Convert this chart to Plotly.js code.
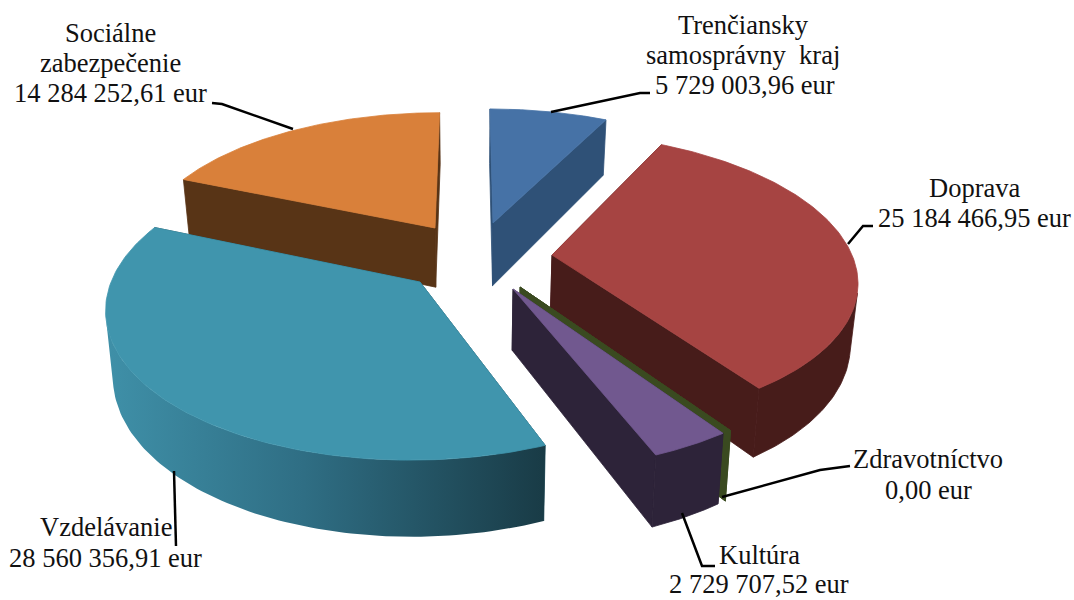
<!DOCTYPE html>
<html>
<head>
<meta charset="utf-8">
<script src="https://cdn.plot.ly/plotly-3.0.1.min.js"></script>
<style>html,body{margin:0;padding:0;background:#fff}#c{width:1074px;height:600px}</style>
</head>
<body>
<div id="c"></div>
<script>
// Data, in pie order (clockwise from 12 o'clock)
var categories = ['Trenčiansky samosprávny kraj', 'Doprava', 'Zdravotníctvo', 'Kultúra', 'Vzdelávanie', 'Sociálne zabezpečenie'];
var values = [5729003.96, 25184466.95, 0, 2729707.52, 28560356.91, 14284252.61];

// Styling per slice
var topColors  = ['#4672a6', '#a64442', '#3a4a20', '#71588f', '#4095ad', '#d9803a'];
var wallColors = ['#2f5177', '#471c1a', '#3a4a20', '#2d2339', '#1f4a57', '#583416'];
var apexX = [493, 552, 520, 513, 420, 435];
var apexY = [223, 255, 287, 289, 282, 228];
var wallDepth = [65, 60, 59, 59, 62.5, 61];
var drawOrder = [5, 0, 1, 2, 3, 4];

// Projection of the tilted pie
var cx0 = 470, cy0 = 255, Rx = 300, Ry = 141, horizon = 905, shrink = 0.98;
var k = Ry / horizon;

function project(X, Y) {
  var q = 1 / (1 + k * Y);
  return {x: cx0 + Rx * X * q, y: cy0 - Ry * Y * q, q: q};
}
function lowerBy(depth) {
  return function (p) {
    return {x: cx0 + (p.x - cx0) * shrink, y: p.y + depth * p.q};
  };
}
function planeFromScreen(sx, sy) {
  var q = 1 - (cy0 - sy) / horizon;
  return {X: (sx - cx0) / (Rx * q), Y: (1 / q - 1) / k, q: q};
}

var total = values.reduce(function (a, b) { return a + b; }, 0);
var startAngle = [], endAngle = [];
var running = 0;
values.forEach(function (v, i) {
  startAngle[i] = running / total * 2 * Math.PI;
  running += v;
  endAngle[i] = running / total * 2 * Math.PI;
});

function poly(points, fillcolor, name, extra) {
  var t = {
    type: 'scatter', mode: 'lines', name: name, hoverinfo: 'name',
    x: points.map(function (p) { return p.x; }),
    y: points.map(function (p) { return p.y; }),
    fill: 'toself', fillcolor: fillcolor,
    line: {width: 0.8, color: fillcolor}
  };
  if (extra) { for (var key in extra) { t[key] = extra[key]; } }
  return t;
}

var traces = [];
drawOrder.forEach(function (i) {
  var a = planeFromScreen(apexX[i], apexY[i]);
  var apex = project(a.X, a.Y);
  var lower = lowerBy(wallDepth[i]);
  var arc = [];
  var steps = 120;
  for (var s = 0; s <= steps; s++) {
    var t = startAngle[i] + (endAngle[i] - startAngle[i]) * s / steps;
    arc.push(project(a.X + Math.sin(t), a.Y + Math.cos(t)));
  }
  var first = arc[0], last = arc[arc.length - 1];
  var name = categories[i];
  // radial walls
  traces.push(poly([apex, first, lower(first), lower(apex), apex], wallColors[i], name));
  traces.push(poly([apex, last, lower(last), lower(apex), apex], wallColors[i], name));
  // rim wall: only the part of the arc that faces the viewer
  var front = arc.filter(function (p, n) {
    var nxt = arc[Math.min(n + 1, arc.length - 1)], prv = arc[Math.max(n - 1, 0)];
    var low = lower(p);
    return (nxt.x - prv.x) * (low.y - p.y) - (nxt.y - prv.y) * (low.x - p.x) < 0;
  });
  if (front.length > 1) {
    var rim = front.concat(front.slice().reverse().map(lower));
    rim.push(front[0]);
    if (name === 'Vzdelávanie') {
      traces.push(poly(rim, wallColors[i], name, {
        line: {width: 0},
        fillgradient: {type: 'horizontal', colorscale: [[0, '#3f90a8'], [0.45, '#2f6e84'], [1, '#193b46']]}
      }));
    } else {
      traces.push(poly(rim, wallColors[i], name));
    }
  }
  // top face
  var face = [apex].concat(arc);
  face.push(apex);
  traces.push(poly(face, topColors[i], name));
});

// Data labels
var labelLines = [
  ['Trenčiansky', 'samosprávny  kraj', '5 729 003,96 eur'],
  ['Doprava', '25 184 466,95 eur'],
  ['Zdravotníctvo', '0,00 eur'],
  ['Kultúra', '2 729 707,52 eur'],
  ['Vzdelávanie', '28 560 356,91 eur'],
  ['Sociálne', 'zabezpečenie', '14 284 252,61 eur']
];
var labelCenterX = [[743, 743, 745], [974, 974], [928, 928], [759, 759], [106, 105], [110, 110, 110]];
var labelFirstY = [25, 188, 459, 555, 527, 33];
var lineGap = [30, 30, 31, 28.5, 31, 30];

var annotations = [];
labelLines.forEach(function (lines, i) {
  lines.forEach(function (txt, j) {
    annotations.push({
      xref: 'x', yref: 'y', x: labelCenterX[i][j], y: labelFirstY[i] + j * lineGap[i],
      text: txt.replace(/  /g, ' \u00a0'), showarrow: false, xanchor: 'center', yanchor: 'middle',
      font: {family: '"Liberation Serif", "Times New Roman", serif', size: 26.5, color: '#111111'}
    });
  });
});

// Leader lines
var leaders = [
  [[551, 112], [640, 93], [650, 93]],
  [[848, 244], [863, 226], [873, 226]],
  [[722, 497], [820, 470], [850, 466]],
  [[682, 513], [702, 566], [715, 566]],
  [[174, 471], [176, 546]],
  [[293, 129], [222, 104], [212, 103]]
];
leaders.forEach(function (pts) {
  traces.push({
    type: 'scatter', mode: 'lines', hoverinfo: 'skip',
    x: pts.map(function (p) { return p[0]; }),
    y: pts.map(function (p) { return p[1]; }),
    line: {color: '#000000', width: 2.5}
  });
});

var layout = {
  width: 1074, height: 600,
  margin: {l: 0, r: 0, t: 0, b: 0},
  paper_bgcolor: '#ffffff', plot_bgcolor: '#ffffff',
  showlegend: false,
  xaxis: {range: [0, 1074], visible: false, fixedrange: true},
  yaxis: {range: [600, 0], visible: false, fixedrange: true},
  annotations: annotations
};
Plotly.newPlot('c', traces, layout, {displayModeBar: false, staticPlot: true});
</script>
</body>
</html>
